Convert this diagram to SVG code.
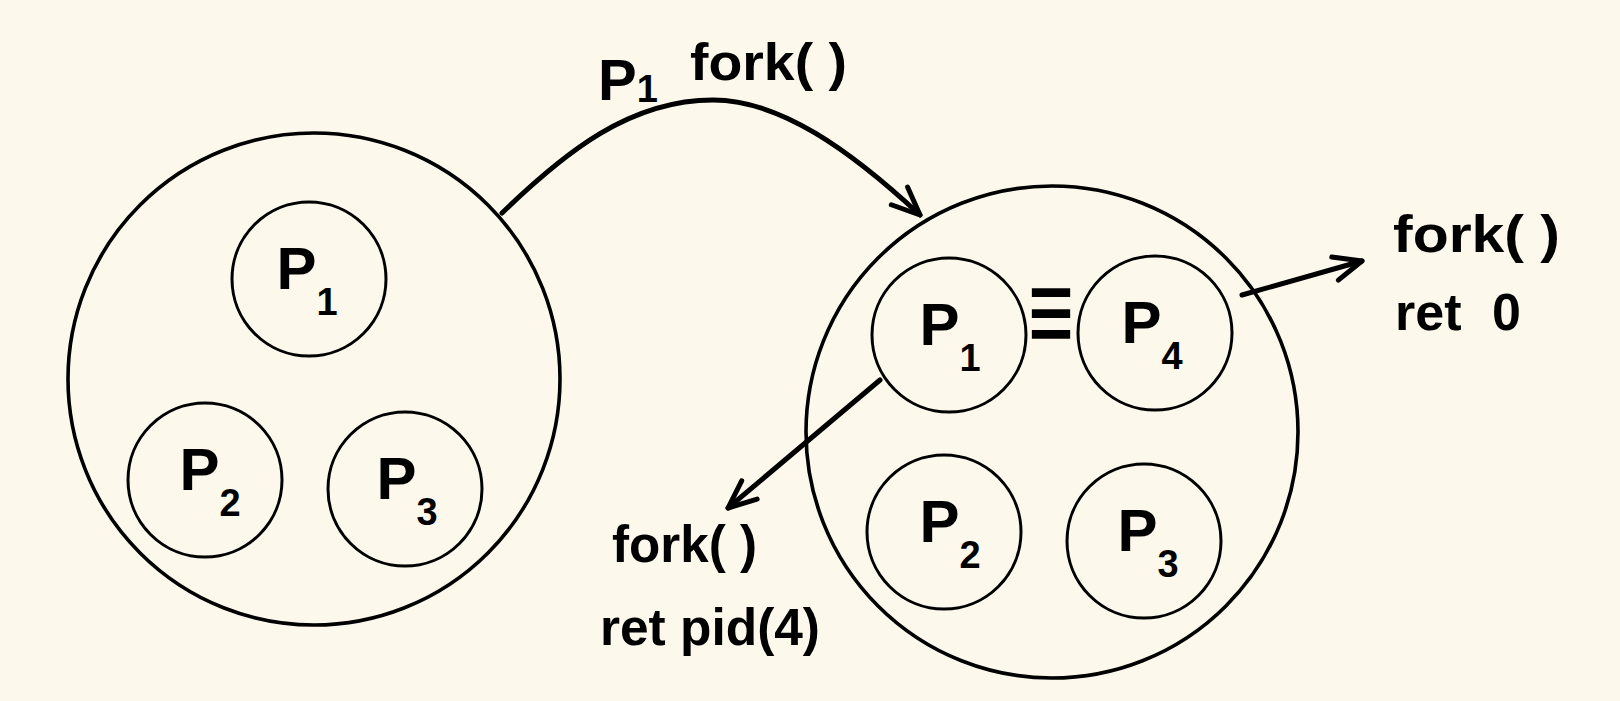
<svg xmlns="http://www.w3.org/2000/svg" width="1620" height="701" viewBox="0 0 1620 701">
<style>
.big{fill:none;stroke:#000;stroke-width:3.6}
.small{fill:none;stroke:#000;stroke-width:3}
.lbl{font-family:"Liberation Sans",Arial,sans-serif;font-weight:bold;fill:#000}
.pl{font-size:60px;text-anchor:middle}
.sub{font-size:38px}
.note{font-size:52px}
.con{fill:none;stroke:#000;stroke-width:5;stroke-linecap:round;stroke-linejoin:round}
</style>
<defs>
<marker id="ah" markerUnits="userSpaceOnUse" markerWidth="50" markerHeight="50" viewBox="-40 -25 50 50" refX="0" refY="0" orient="auto" overflow="visible">
<path d="M-28,-12 L0,0 L-28,12" fill="none" stroke="#000" stroke-width="5" stroke-linecap="round" stroke-linejoin="round"/>
</marker>
</defs>
<rect width="1620" height="701" fill="#FCF8EC"/>
<g id="before">
<circle class="big" cx="314" cy="379" r="246"/>
</g>
<g id="before-p1"><circle class="small" cx="309" cy="279" r="77"/><text class="lbl pl" x="307" y="289">P<tspan class="sub" dy="26">1</tspan></text></g>
<g id="before-p2"><circle class="small" cx="205" cy="480" r="77"/><text class="lbl pl" x="210" y="490">P<tspan class="sub" dy="26">2</tspan></text></g>
<g id="before-p3"><circle class="small" cx="405" cy="489" r="77"/><text class="lbl pl" x="407" y="499">P<tspan class="sub" dy="26">3</tspan></text></g>
<g id="after">
<circle class="big" cx="1052" cy="432" r="246"/>
</g>
<g id="after-p1"><circle class="small" cx="949" cy="335" r="77"/><text class="lbl pl" x="950" y="345">P<tspan class="sub" dy="26">1</tspan></text></g>
<g id="after-p4"><circle class="small" cx="1155" cy="333" r="77"/><text class="lbl pl" x="1152" y="343">P<tspan class="sub" dy="26">4</tspan></text></g>
<g id="after-p2"><circle class="small" cx="944" cy="532" r="77"/><text class="lbl pl" x="950" y="542">P<tspan class="sub" dy="26">2</tspan></text></g>
<g id="after-p3"><circle class="small" cx="1144" cy="541" r="77"/><text class="lbl pl" x="1148" y="551">P<tspan class="sub" dy="26">3</tspan></text></g>
<g id="connectors">
<path class="con" d="M502,213 C565,152 630,100 713,100 C780,100 850,150 920,215" marker-end="url(#ah)"/>
<path class="con" d="M1242,295 L1362,261" marker-end="url(#ah)"/>
<path class="con" d="M880,380 L728,508" marker-end="url(#ah)"/>
<text class="lbl" x="1028" y="353" font-family="DejaVu Sans,sans-serif" font-size="120" textLength="46" lengthAdjust="spacingAndGlyphs">≡</text>
</g>
<g id="labels">
<text class="lbl" x="598" y="100" font-size="58">P<tspan class="sub" dy="2">1</tspan></text>
<text class="lbl note" x="690" y="80" textLength="157" lengthAdjust="spacingAndGlyphs">fork( )</text>
<text class="lbl note" x="1393" y="252" textLength="167" lengthAdjust="spacingAndGlyphs">fork( )</text>
<text class="lbl note" x="1395" y="330">ret<tspan x="1492">0</tspan></text>
<text class="lbl note" x="612" y="562" textLength="145" lengthAdjust="spacingAndGlyphs">fork( )</text>
<text class="lbl note" x="600" y="645" textLength="220" lengthAdjust="spacingAndGlyphs">ret pid(4)</text>
</g>
</svg>
